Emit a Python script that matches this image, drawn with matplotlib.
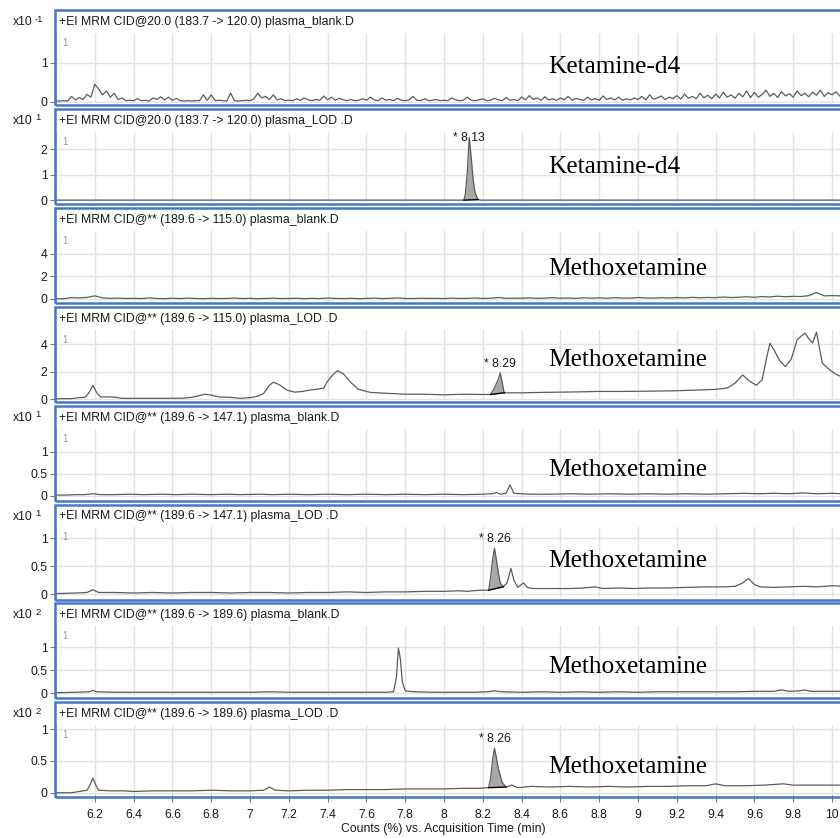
import numpy as np
import matplotlib
matplotlib.use("Agg")
import matplotlib.pyplot as plt
from matplotlib.patches import Rectangle
from matplotlib.ticker import FuncFormatter

plt.rcParams['font.family'] = ['Liberation Sans', 'DejaVu Sans']

# ---------------------------------------------------------------- data
headers = [
    "+EI MRM CID@20.0 (183.7 -> 120.0) plasma_blank.D",
    "+EI MRM CID@20.0 (183.7 -> 120.0) plasma_LOD .D",
    "+EI MRM CID@** (189.6 -> 115.0) plasma_blank.D",
    "+EI MRM CID@** (189.6 -> 115.0) plasma_LOD .D",
    "+EI MRM CID@** (189.6 -> 147.1) plasma_blank.D",
    "+EI MRM CID@** (189.6 -> 147.1) plasma_LOD .D",
    "+EI MRM CID@** (189.6 -> 189.6) plasma_blank.D",
    "+EI MRM CID@** (189.6 -> 189.6) plasma_LOD .D",
]
compounds = ["Ketamine-d4", "Ketamine-d4", "Methoxetamine", "Methoxetamine",
             "Methoxetamine", "Methoxetamine", "Methoxetamine", "Methoxetamine"]
exponents = [-1, 1, None, None, 1, 1, 2, 2]
y_ticks = [[0, 1], [0, 1, 2], [0, 2, 4], [0, 2, 4],
           [0, 0.5, 1], [0, 0.5, 1], [0, 0.5, 1], [0, 0.5, 1]]
y_limits = [(-0.03, 1.77), (-0.07, 2.68), (-0.16, 6.06), (-0.05, 5.04),
            (-0.06, 1.53), (-0.06, 1.19), (-0.07, 1.45), (-0.04, 1.06)]
x_tick_values = [6.2, 6.4, 6.6, 6.8, 7.0, 7.2, 7.4, 7.6, 7.8, 8.0, 8.2, 8.4,
                 8.6, 8.8, 9.0, 9.2, 9.4, 9.6, 9.8, 10.0]

# 183.7 -> 120.0 blank, sampled every 0.02 min from 6.00 min
d4_blank_counts = [
    0.02, 0.02, 0.03, 0.02, 0.14, 0.05, 0.11, 0.06, 0.19, 0.12,
    0.45, 0.33, 0.18, 0.28, 0.12, 0.22, 0.06, 0.10, 0.03, 0.04,
    0.03, 0.08, 0.03, 0.04, 0.02, 0.10, 0.06, 0.13, 0.05, 0.12,
    0.04, 0.09, 0.03, 0.02, 0.03, 0.02, 0.03, 0.03, 0.18, 0.04,
    0.18, 0.03, 0.04, 0.03, 0.02, 0.22, 0.03, 0.02, 0.03, 0.04,
    0.03, 0.08, 0.22, 0.10, 0.14, 0.06, 0.18, 0.05, 0.08, 0.03,
    0.04, 0.03, 0.08, 0.04, 0.10, 0.05, 0.03, 0.06, 0.04, 0.15,
    0.05, 0.12, 0.04, 0.09, 0.05, 0.03, 0.06, 0.03, 0.04, 0.08,
    0.04, 0.12, 0.05, 0.03, 0.10, 0.04, 0.06, 0.03, 0.09, 0.04,
    0.03, 0.05, 0.14, 0.04, 0.03, 0.08, 0.03, 0.04, 0.06, 0.03,
    0.04, 0.03, 0.10, 0.05, 0.03, 0.04, 0.12, 0.04, 0.03, 0.05,
    0.08, 0.03, 0.04, 0.09, 0.05, 0.03, 0.11, 0.04, 0.06, 0.03,
    0.12, 0.05, 0.16, 0.06, 0.10, 0.04, 0.13, 0.05, 0.08, 0.04,
    0.10, 0.05, 0.14, 0.04, 0.09, 0.06, 0.04, 0.12, 0.05, 0.08,
    0.04, 0.15, 0.06, 0.10, 0.05, 0.12, 0.04, 0.08, 0.05, 0.10,
    0.06, 0.14, 0.05, 0.18, 0.07, 0.10, 0.15, 0.06, 0.12, 0.08,
    0.16, 0.07, 0.20, 0.09, 0.14, 0.08, 0.22, 0.10, 0.17, 0.08,
    0.20, 0.10, 0.25, 0.12, 0.18, 0.09, 0.22, 0.13, 0.28, 0.11,
    0.24, 0.12, 0.19, 0.30, 0.14, 0.22, 0.11, 0.26, 0.15, 0.21,
    0.12, 0.28, 0.16, 0.22, 0.13, 0.25, 0.17, 0.30, 0.14, 0.24,
    0.18, 0.26, 0.15,
]

# 183.7 -> 120.0 LOD
d4_lod_time = [6.00, 8.09, 8.103, 8.11, 8.12, 8.13, 8.14, 8.15, 8.16, 8.175, 8.19, 10.06]
d4_lod_counts = [0.0, 0.0, 0.0, 0.25, 1.10, 2.45, 1.70, 0.80, 0.30, 0.02, 0.0, 0.0]

# 189.6 -> 115.0 blank, sampled every 0.04 min from 6.00 min
mxe115_blank_counts = [
    0.02, 0.03, 0.12, 0.10, 0.14, 0.28, 0.10, 0.06, 0.08, 0.05,
    0.06, 0.04, 0.10, 0.05, 0.03, 0.07, 0.04, 0.08, 0.05, 0.03,
    0.06, 0.04, 0.05, 0.09, 0.04, 0.06, 0.03, 0.05, 0.08, 0.04,
    0.05, 0.07, 0.03, 0.06, 0.04, 0.09, 0.05, 0.04, 0.06, 0.03,
    0.05, 0.08, 0.04, 0.06, 0.10, 0.05, 0.04, 0.07, 0.05, 0.06,
    0.04, 0.08, 0.05, 0.06, 0.09, 0.05, 0.07, 0.14, 0.06, 0.08,
    0.07, 0.10, 0.06, 0.08, 0.12, 0.07, 0.09, 0.06, 0.11, 0.08,
    0.10, 0.07, 0.12, 0.09, 0.08, 0.13, 0.10, 0.08, 0.12, 0.09,
    0.13, 0.10, 0.15, 0.11, 0.14, 0.12, 0.18, 0.13, 0.16, 0.20,
    0.15, 0.22, 0.18, 0.25, 0.20, 0.24, 0.22, 0.30, 0.58, 0.28,
    0.30, 0.28,
]

# 189.6 -> 115.0 LOD
mxe115_lod_time = [
    6.00, 6.08, 6.12, 6.15, 6.17, 6.19, 6.21, 6.23, 6.28, 6.31, 6.34, 6.45,
    6.55, 6.65, 6.70, 6.74, 6.77, 6.80, 6.84, 6.90, 6.95, 7.00, 7.04, 7.07,
    7.10, 7.12, 7.15, 7.19, 7.23, 7.27, 7.31, 7.35, 7.38, 7.40, 7.43, 7.45,
    7.48, 7.52, 7.56, 7.62, 7.70, 7.80, 7.90, 8.00, 8.10, 8.20, 8.24, 8.26,
    8.28, 8.29, 8.30, 8.31, 8.33, 8.40, 8.50, 8.60, 8.70, 8.80, 8.90, 9.00,
    9.10, 9.20, 9.30, 9.40, 9.46, 9.50, 9.54, 9.57, 9.61, 9.64, 9.66, 9.68,
    9.70, 9.73, 9.76, 9.79, 9.82, 9.86, 9.88, 9.90, 9.92, 9.95, 9.99, 10.02,
    10.06,
]
mxe115_lod_counts = [
    0.02, 0.03, 0.10, 0.12, 0.45, 1.00, 0.45, 0.15, 0.15, 0.12, 0.05, 0.05,
    0.05, 0.06, 0.12, 0.25, 0.35, 0.28, 0.15, 0.12, 0.05, 0.10, 0.20, 0.40,
    1.00, 1.22, 1.05, 0.65, 0.50, 0.55, 0.65, 0.72, 0.80, 1.30, 1.80, 2.05,
    1.85, 1.20, 0.70, 0.48, 0.42, 0.35, 0.35, 0.30, 0.35, 0.33, 0.33, 0.80,
    1.45, 1.90, 1.20, 0.45, 0.45, 0.45, 0.48, 0.50, 0.52, 0.55, 0.55, 0.56,
    0.58, 0.60, 0.65, 0.70, 0.80, 1.15, 1.75, 1.35, 1.00, 1.40, 2.80, 4.05,
    3.60, 2.80, 2.35, 2.90, 4.30, 4.80, 4.40, 4.07, 4.87, 2.60, 2.10, 1.80,
    1.55,
]

# 189.6 -> 147.1 blank
mxe147_blank_time = [
    6.00, 6.05, 6.10, 6.15, 6.19, 6.23, 6.30, 6.38, 6.45, 6.55, 6.62, 6.70,
    6.80, 6.88, 6.95, 7.05, 7.12, 7.20, 7.30, 7.40, 7.50, 7.60, 7.70, 7.80,
    7.90, 8.00, 8.10, 8.20, 8.25, 8.27, 8.29, 8.32, 8.34, 8.36, 8.40, 8.45,
    8.55, 8.65, 8.75, 8.85, 8.95, 9.05, 9.15, 9.25, 9.35, 9.45, 9.55, 9.62,
    9.70, 9.78, 9.85, 9.92, 10.00, 10.06,
]
mxe147_blank_counts = [
    0.02, 0.02, 0.03, 0.03, 0.05, 0.03, 0.03, 0.04, 0.03, 0.04, 0.03, 0.04,
    0.03, 0.04, 0.03, 0.04, 0.03, 0.04, 0.03, 0.04, 0.03, 0.04, 0.03, 0.04,
    0.03, 0.04, 0.03, 0.04, 0.05, 0.08, 0.04, 0.06, 0.25, 0.06, 0.05, 0.04,
    0.04, 0.05, 0.04, 0.05, 0.04, 0.05, 0.04, 0.05, 0.04, 0.05, 0.06, 0.05,
    0.06, 0.05, 0.07, 0.05, 0.06, 0.05,
]

# 189.6 -> 147.1 LOD
mxe147_lod_time = [
    6.00, 6.10, 6.16, 6.19, 6.22, 6.30, 6.40, 6.50, 6.60, 6.70, 6.80, 6.90,
    7.00, 7.10, 7.20, 7.30, 7.40, 7.50, 7.60, 7.70, 7.80, 7.90, 8.00, 8.08,
    8.12, 8.18, 8.23, 8.24, 8.25, 8.26, 8.27, 8.28, 8.29, 8.305, 8.325, 8.345,
    8.36, 8.38, 8.41, 8.43, 8.46, 8.55, 8.65, 8.72, 8.78, 8.82, 8.90, 8.98,
    9.05, 9.15, 9.25, 9.35, 9.45, 9.50, 9.54, 9.57, 9.60, 9.63, 9.70, 9.78,
    9.85, 9.92, 10.00, 10.06,
]
mxe147_lod_counts = [
    0.01, 0.02, 0.03, 0.08, 0.03, 0.03, 0.02, 0.03, 0.02, 0.03, 0.03, 0.02,
    0.03, 0.03, 0.02, 0.03, 0.03, 0.04, 0.03, 0.04, 0.04, 0.05, 0.05, 0.06,
    0.05, 0.07, 0.07, 0.30, 0.60, 0.82, 0.62, 0.38, 0.20, 0.13, 0.20, 0.46,
    0.25, 0.12, 0.20, 0.12, 0.10, 0.10, 0.10, 0.11, 0.13, 0.10, 0.11, 0.10,
    0.11, 0.11, 0.12, 0.13, 0.13, 0.14, 0.20, 0.28, 0.17, 0.13, 0.12, 0.13,
    0.14, 0.13, 0.15, 0.14,
]

# 189.6 -> 189.6 blank
mxe189_blank_time = [
    6.00, 6.10, 6.17, 6.19, 6.21, 6.30, 6.40, 6.50, 6.60, 6.70, 6.80, 6.90,
    7.00, 7.10, 7.20, 7.30, 7.40, 7.50, 7.60, 7.70, 7.74, 7.755, 7.765, 7.775,
    7.785, 7.80, 7.85, 7.95, 8.05, 8.15, 8.22, 8.26, 8.30, 8.40, 8.50, 8.60,
    8.70, 8.80, 8.90, 9.00, 9.10, 9.20, 9.30, 9.40, 9.50, 9.60, 9.70, 9.74,
    9.78, 9.83, 9.86, 9.89, 9.95, 10.06,
]
mxe189_blank_counts = [
    0.01, 0.02, 0.03, 0.06, 0.03, 0.02, 0.02, 0.02, 0.02, 0.02, 0.02, 0.02,
    0.02, 0.03, 0.02, 0.02, 0.02, 0.02, 0.02, 0.02, 0.03, 0.35, 0.98, 0.75,
    0.25, 0.05, 0.03, 0.02, 0.02, 0.02, 0.03, 0.05, 0.03, 0.02, 0.03, 0.02,
    0.03, 0.02, 0.03, 0.02, 0.03, 0.03, 0.03, 0.03, 0.03, 0.04, 0.04, 0.07,
    0.04, 0.05, 0.07, 0.04, 0.04, 0.04,
]

# 189.6 -> 189.6 LOD
mxe189_lod_time = [
    6.00, 6.08, 6.12, 6.16, 6.175, 6.19, 6.205, 6.22, 6.28, 6.35, 6.40, 6.50,
    6.60, 6.70, 6.80, 6.90, 7.00, 7.07, 7.10, 7.13, 7.20, 7.30, 7.40, 7.50,
    7.60, 7.70, 7.80, 7.90, 8.00, 8.10, 8.18, 8.23, 8.24, 8.25, 8.26, 8.27,
    8.28, 8.30, 8.32, 8.35, 8.38, 8.45, 8.55, 8.65, 8.75, 8.85, 8.95, 9.05,
    9.15, 9.25, 9.35, 9.40, 9.45, 9.55, 9.65, 9.75, 9.80, 9.90, 10.00, 10.06,
]
mxe189_lod_counts = [
    0.00, 0.00, 0.02, 0.04, 0.12, 0.23, 0.12, 0.04, 0.03, 0.03, 0.02, 0.03,
    0.03, 0.03, 0.04, 0.03, 0.03, 0.04, 0.09, 0.04, 0.03, 0.04, 0.04, 0.05,
    0.05, 0.05, 0.06, 0.06, 0.06, 0.07, 0.07, 0.08, 0.22, 0.50, 0.70, 0.55,
    0.38, 0.16, 0.09, 0.12, 0.08, 0.10, 0.09, 0.10, 0.09, 0.10, 0.09, 0.10,
    0.10, 0.11, 0.11, 0.14, 0.11, 0.11, 0.12, 0.14, 0.12, 0.12, 0.12, 0.12,
]

traces = [
    (np.round(6.0 + 0.02 * np.arange(len(d4_blank_counts)), 2), d4_blank_counts),
    (d4_lod_time, d4_lod_counts),
    (np.round(6.0 + 0.04 * np.arange(len(mxe115_blank_counts)), 2), mxe115_blank_counts),
    (mxe115_lod_time, mxe115_lod_counts),
    (mxe147_blank_time, mxe147_blank_counts),
    (mxe147_lod_time, mxe147_lod_counts),
    (mxe189_blank_time, mxe189_blank_counts),
    (mxe189_lod_time, mxe189_lod_counts),
]

# integrated peaks: panel, retention time, integration start, integration end
peaks = [
    (1, 8.13, 8.103, 8.175),
    (3, 8.29, 8.24, 8.31),
    (5, 8.26, 8.23, 8.305),
    (7, 8.26, 8.23, 8.32),
]

# ---------------------------------------------------------------- layout
W, H = 840, 838
fig = plt.figure(figsize=(W / 100, H / 100), dpi=100)
fig.patch.set_facecolor("white")

BLUE = "#4676c8"
TRACE = "#5c5c5c"
GRID = "#e2e2e2"
INK = "#1a1a1a"
FS = 8.8
PITCH = 98.9
X0_PX, X_PER_MIN = 56, 194.0
x_right = 6.0 + (W - X0_PX) / X_PER_MIN


def fy(px):
    return 1 - px / H


axes = []
for i in range(8):
    top = 10 + PITCH * i
    ax = fig.add_axes([X0_PX / W, fy(top + 93), (W - X0_PX) / W, 70 / H])
    axes.append(ax)

    fig.add_artist(Rectangle((55 / W, fy(top + 95)), 820 / W, 95 / H,
                             transform=fig.transFigure, fill=False,
                             ec=BLUE, lw=1.8, zorder=10))
    fig.text(59 / W, fy(top + 12), headers[i], ha="left", va="center",
             fontsize=FS, color=INK)
    if exponents[i] is not None:
        fig.text(33 / W, fy(top + 12), "x10", ha="right", va="center",
                 fontsize=FS, color=INK)
        fig.text(35 / W, fy(top + 9), str(exponents[i]), ha="left",
                 va="center", fontsize=6.8, color=INK)

    t = np.asarray(traces[i][0], dtype=float)
    v = np.asarray(traces[i][1], dtype=float)
    ax.plot(t, v, color=TRACE, lw=0.9, zorder=3)

    ax.set_xlim(6.0, x_right)
    ax.set_ylim(*y_limits[i])
    ax.set_xticks(x_tick_values)
    ax.set_yticks(y_ticks[i])
    ax.yaxis.set_major_formatter(FuncFormatter(lambda val, p: f"{val:g}"))
    ax.xaxis.set_major_formatter(FuncFormatter(lambda val, p: f"{val:g}"))
    ax.grid(True, color=GRID, lw=1.0, zorder=0)
    ax.set_axisbelow(True)
    for side in ("top", "right", "bottom"):
        ax.spines[side].set_visible(False)
    ax.spines["left"].set_color("#c8c8c8")
    ax.tick_params(axis="y", length=4, width=0.8, color="#777777",
                   labelsize=FS, pad=2, labelcolor=INK)
    if i < 7:
        ax.tick_params(axis="x", length=0, labelbottom=False)
    else:
        ax.tick_params(axis="x", length=5, width=0.8, color="#777777",
                       labelsize=FS, pad=5, labelcolor=INK)

    ax.text(0.008, 0.93, "1", transform=ax.transAxes, ha="left", va="top",
            fontsize=7, color="#9a9a9a")

compound_y = [0.51, 0.50, 0.45, 0.57, 0.41, 0.52, 0.42, 0.40]
for i, ax in enumerate(axes):
    ax.text((548 - X0_PX) / (W - X0_PX), compound_y[i], compounds[i],
            transform=ax.transAxes, ha="left", va="center", fontsize=18.3,
            family=["Liberation Serif", "DejaVu Serif"], color="black", zorder=5)

for panel, rt, t0, t1 in peaks:
    ax = axes[panel]
    t = np.asarray(traces[panel][0], dtype=float)
    v = np.asarray(traces[panel][1], dtype=float)
    b0, b1 = np.interp(t0, t, v), np.interp(t1, t, v)
    m = (t >= t0) & (t <= t1)
    ts, vs = t[m], v[m]
    base = np.interp(ts, [t0, t1], [b0, b1])
    ax.fill_between(ts, vs, base, color="#a8a8a8", lw=0, zorder=2)
    ax.plot([t0, t1], [b0, b1], color="black", lw=1.0, zorder=4)
    apex = np.interp(rt, t, v)
    lo, hi = y_limits[panel]
    if apex > 0.8 * hi:
        ax.annotate(f"* {rt:.2f}", xy=(rt, apex), ha="center", va="center",
                    fontsize=FS, color=INK, zorder=5)
    else:
        ax.annotate(f"* {rt:.2f}", xy=(rt, apex), xytext=(0, 2),
                    textcoords="offset points", ha="center", va="bottom",
                    fontsize=FS, color=INK, zorder=5)

fig.text(443 / W, fy(829), "Counts (%) vs. Acquisition Time (min)",
         ha="center", va="center", fontsize=FS, color=INK)

fig.savefig("out.png", dpi=100, facecolor="white")
